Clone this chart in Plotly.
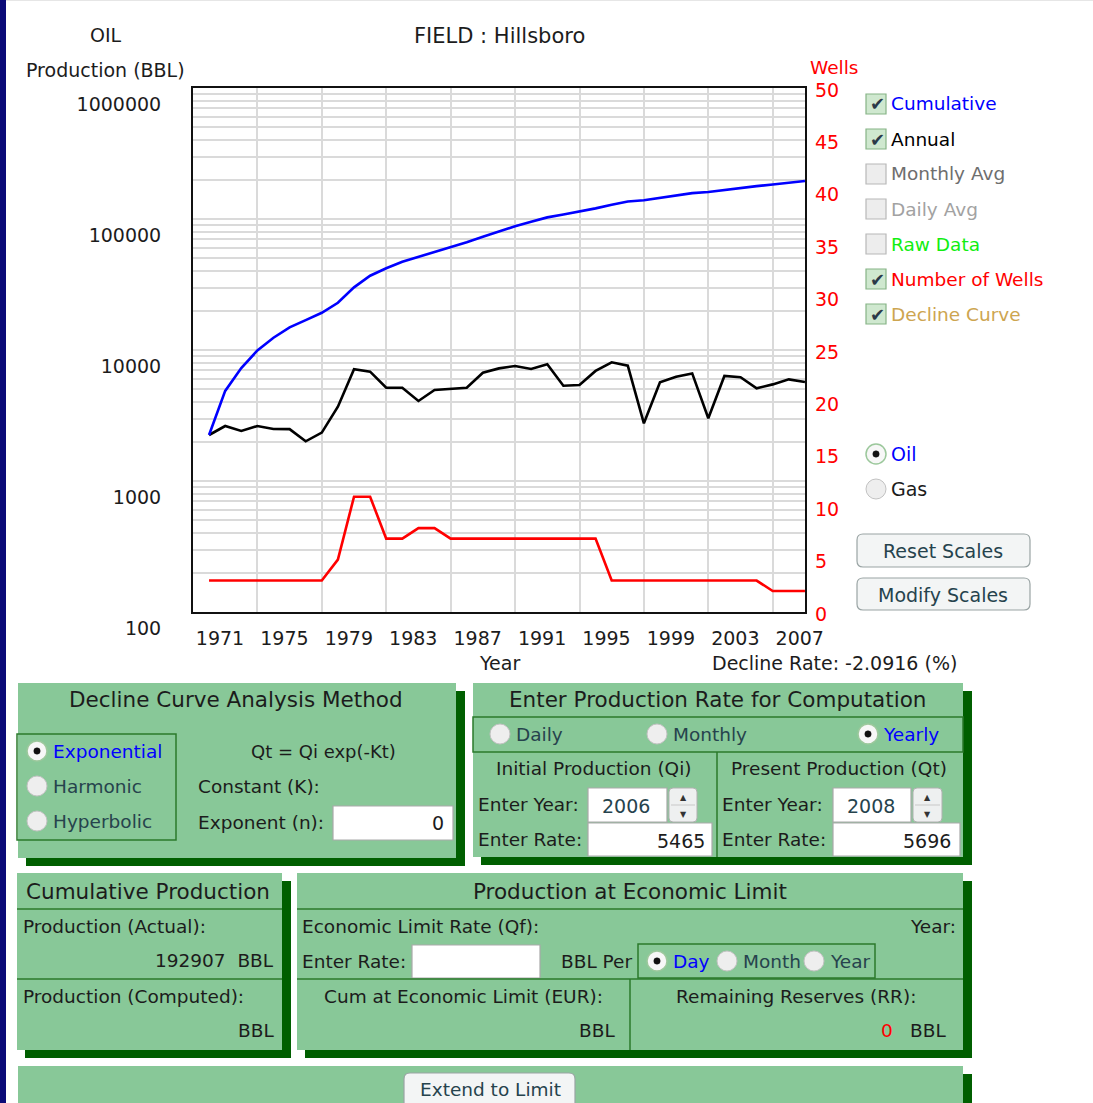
import plotly.graph_objects as go

# ---------------- data ----------------
years = [1971, 1972, 1973, 1974, 1975, 1976, 1977, 1978, 1979, 1980,
         1981, 1982, 1983, 1984, 1985, 1986, 1987, 1988, 1989, 1990,
         1991, 1992, 1993, 1994, 1995, 1996, 1997, 1998, 1999, 2000,
         2001, 2002, 2003, 2004, 2005, 2006, 2007, 2008]
annual_bbl = [2245, 2630, 2410, 2630, 2495, 2490, 2010, 2340, 3690, 7125,
              6830, 5150, 5150, 4080, 4950, 5060, 5150, 6710, 7240, 7550,
              7160, 7780, 5340, 5410, 6920, 8060, 7600, 2755, 5660, 6250,
              6630, 3010, 6340, 6190, 5100, 5465, 5970, 5696]
cumulative_bbl = [2245, 4875, 7285, 9915, 12410, 14900, 16910, 19250, 22940, 30065,
                  36895, 42045, 47195, 51275, 56225, 61285, 66435, 73145, 80385, 87935,
                  95095, 102875, 108215, 113625, 120545, 128605, 136205, 138960, 144620, 150870,
                  157500, 160510, 166850, 173040, 178140, 183605, 189575, 195271]
wells = [3, 3, 3, 3, 3, 3, 3, 3, 5, 11,
         11, 7, 7, 8, 8, 7, 7, 7, 7, 7,
         7, 7, 7, 7, 7, 3, 3, 3, 3, 3,
         3, 3, 3, 3, 3, 2, 2, 2]
y_tickvals = [100, 1000, 10000, 100000, 1000000]
y_ticktext = ["100", "1000", "10000", "100000", "1000000"]
wells_ticks = [0, 5, 10, 15, 20, 25, 30, 35, 40, 45, 50]

# annual totals are plotted at the end of their year
x_dates = [f"{y}-12-31" for y in years]

W, H = 1093, 1103
FONT = "DejaVu Sans"
TXT = "#1c1c1c"
SLATE = "#26434d"
PANEL = "#88c898"
SHADOW = "#005f00"
INNER = "#2b7a2b"


def px(x):
    return x / W


def py(y):
    return 1 - y / H


shapes = []
annotations = []


def rect(x0, y0, x1, y1, fill="rgba(0,0,0,0)", line=None, lw=1.0):
    shapes.append(dict(type="rect", xref="paper", yref="paper",
                       x0=px(x0), x1=px(x1), y0=py(y1), y1=py(y0),
                       fillcolor=fill,
                       line=dict(color=line if line else "rgba(0,0,0,0)", width=lw if line else 0)))


def rrect(x0, y0, x1, y1, r, fill, line, lw=1.2):
    a, b, c, d = px(x0), px(x1), py(y0), py(y1)
    rx, ry = r / W, r / H
    path = (f"M{a+rx},{c} L{b-rx},{c} Q{b},{c} {b},{c-ry} L{b},{d+ry} Q{b},{d} {b-rx},{d} "
            f"L{a+rx},{d} Q{a},{d} {a},{d+ry} L{a},{c-ry} Q{a},{c} {a+rx},{c} Z")
    shapes.append(dict(type="path", xref="paper", yref="paper", path=path,
                       fillcolor=fill, line=dict(color=line, width=lw)))


def hline(x0, x1, y, color=INNER, lw=1.5):
    shapes.append(dict(type="line", xref="paper", yref="paper",
                       x0=px(x0), x1=px(x1), y0=py(y), y1=py(y), line=dict(color=color, width=lw)))


def vline(x, y0, y1, color=INNER, lw=1.5):
    shapes.append(dict(type="line", xref="paper", yref="paper",
                       x0=px(x), x1=px(x), y0=py(y0), y1=py(y1), line=dict(color=color, width=lw)))


def text(x, y, s, size=19, color=TXT, anchor="center"):
    annotations.append(dict(xref="paper", yref="paper", x=px(x), y=py(y), text=s,
                            showarrow=False, xanchor=anchor, yanchor="middle",
                            font=dict(family=FONT, size=size, color=color)))


def circle(cx, cy, r, fill, line, lw=1.0):
    shapes.append(dict(type="circle", xref="paper", yref="paper",
                       x0=px(cx - r), x1=px(cx + r), y0=py(cy + r), y1=py(cy - r),
                       fillcolor=fill, line=dict(color=line, width=lw)))


def radio(cx, cy, selected):
    if selected:
        circle(cx, cy, 10, "#f7f7f7", "#9cc89c", 1.5)
        circle(cx, cy, 3.2, "#111111", "#111111", 0.5)
    else:
        circle(cx, cy, 10, "#eeeeee", "#c2c2c2", 1.0)


def checkbox(cx, cy, checked):
    if checked:
        rect(cx - 10, cy - 10, cx + 10, cy + 10, "#cfe8cf", "#86b386", 1.2)
        text(cx + 1, cy, "✔", size=18, color="#2b3a48")
    else:
        rect(cx - 10, cy - 10, cx + 10, cy + 10, "#ededed", "#b8b8b8", 1.2)


def panel(x0, y0, x1, y1, sh=8):
    rect(x0 + sh, y0 + sh, x1 + sh + 1, y1 + sh, SHADOW)
    rect(x0, y0, x1, y1, PANEL)


def inputbox(x0, y0, x1, y1):
    rect(x0, y0, x1, y1, "#ffffff", "#a9a9a9", 1.2)


def spinner(x0, y0, x1, y1):
    rrect(x0, y0, x1, y1, 4, "#eef0f0", "#b0b0b0", 1.0)
    hline(x0 + 2, x1 - 2, (y0 + y1) / 2, "#c8c8c8", 1)
    text((x0 + x1) / 2, y0 + 9, "▲", size=8, color="#333333")
    text((x0 + x1) / 2, y1 - 8, "▼", size=8, color="#333333")


# ---------------- figure ----------------
fig = go.Figure()

fig.add_trace(go.Scatter(x=x_dates, y=wells, mode="lines", yaxis="y2",
                         line=dict(color="#ff0000", width=2.6), name="Number of Wells"))
fig.add_trace(go.Scatter(x=x_dates, y=annual_bbl, mode="lines",
                         line=dict(color="#000000", width=2.6), name="Annual"))
fig.add_trace(go.Scatter(x=x_dates, y=cumulative_bbl, mode="lines",
                         line=dict(color="#0000ff", width=2.6), name="Cumulative"))

# left navy frame stripe and top line
rect(0, 0, 6, H, "#0b0b78")
hline(6, W, 0.5, "#e6e6e6", 1)

# ---- chart texts ----
text(106, 35, "OIL", 19)
text(105, 70, "Production (BBL)", 19)
text(499, 36, "FIELD : Hillsboro", 21)
text(834, 68, "Wells", 18.5, "#ff0000")
text(499, 663, "Year", 19)
text(834, 663, "Decline Rate: -2.0916 (%)", 19)

# ---- legend checkboxes ----
legend_items = [("Cumulative", "#0000ff", True), ("Annual", "#000000", True),
                ("Monthly Avg", "#6e6e6e", False), ("Daily Avg", "#a2a2a2", False),
                ("Raw Data", "#11ee11", False), ("Number of Wells", "#ff0000", True),
                ("Decline Curve", "#cda550", True)]
for i, (lab, col, chk) in enumerate(legend_items):
    cy = 104 + 35 * i
    checkbox(876, cy, chk)
    text(889, cy, lab, 18.5, col, "left")

radio(876, 454, True)
text(889, 454, "Oil", 19, "#0000ff", "left")
radio(876, 489, False)
text(889, 489, "Gas", 19, TXT, "left")

rrect(857, 534, 1030, 567, 6, "#f3f5f5", "#9aa4a4")
text(943, 551, "Reset Scales", 19, SLATE)
rrect(857, 578, 1030, 610, 6, "#f3f5f5", "#9aa4a4")
text(943, 595, "Modify Scales", 19, SLATE)

# ---- Panel A : Decline Curve Analysis Method ----
panel(18, 683, 456, 858)
text(236, 699, "Decline Curve Analysis Method", 21.5)
rect(17, 734, 176, 840, "rgba(0,0,0,0)", INNER, 1.5)
radio(37, 751, True)
text(51, 751, "Exponential", 18.5, "#0000ff", "left")
radio(37, 786, False)
text(51, 786, "Harmonic", 18.5, SLATE, "left")
radio(37, 821, False)
text(51, 821, "Hyperbolic", 18.5, SLATE, "left")
text(323, 751, "Qt = Qi exp(-Kt)", 18)
text(196, 786, "Constant (K):", 18.5, TXT, "left")
text(196, 822, "Exponent (n):", 18.5, TXT, "left")
inputbox(333, 806, 453, 840)
text(446, 823, "0", 19, TXT, "right")

# ---- Panel B : Enter Production Rate for Computation ----
panel(473, 683, 963, 857)
text(717, 699, "Enter Production Rate for Computation", 21.5)
rect(473, 717, 963, 752, "rgba(0,0,0,0)", INNER, 1.5)
radio(500, 734, False)
text(514, 734, "Daily", 18.5, SLATE, "left")
radio(657, 734, False)
text(671, 734, "Monthly", 18.5, SLATE, "left")
radio(868, 734, True)
text(881, 734, "Yearly", 18.5, "#0000ff", "left")
vline(717, 752, 857)
text(594, 768, "Initial Production (Qi)", 18.5)
text(839, 768, "Present Production (Qt)", 18.5)
text(476, 804, "Enter Year:", 18.5, TXT, "left")
inputbox(588, 788, 667, 822)
text(626, 806, "2006", 19, SLATE)
spinner(669, 788, 697, 822)
text(476, 839, "Enter Rate:", 18.5, TXT, "left")
inputbox(588, 823, 712, 856)
text(707, 841, "5465", 19, TXT, "right")
text(720, 804, "Enter Year:", 18.5, TXT, "left")
inputbox(833, 788, 911, 822)
text(871, 806, "2008", 19, SLATE)
spinner(913, 788, 942, 822)
text(720, 839, "Enter Rate:", 18.5, TXT, "left")
inputbox(833, 823, 960, 856)
text(953, 841, "5696", 19, TXT, "right")

# ---- Panel C : Cumulative Production ----
panel(17, 873, 282, 1050)
text(148, 891, "Cumulative Production", 21.5)
hline(17, 282, 909)
text(21, 926, "Production (Actual):", 18.5, TXT, "left")
text(276, 960, "192907  BBL", 18.5, TXT, "right")
hline(17, 282, 979)
text(21, 996, "Production (Computed):", 18.5, TXT, "left")
text(276, 1030, "BBL", 18.5, TXT, "right")

# ---- Panel D : Production at Economic Limit ----
panel(297, 873, 963, 1050)
text(630, 891, "Production at Economic Limit", 21.5)
hline(297, 963, 909)
text(300, 926, "Economic Limit Rate (Qf):", 18.5, TXT, "left")
text(958, 926, "Year:", 18.5, TXT, "right")
text(300, 961, "Enter Rate:", 18.5, TXT, "left")
inputbox(412, 945, 540, 978)
text(634, 961, "BBL Per", 18.5, TXT, "right")
rect(638, 944, 875, 978, "rgba(0,0,0,0)", INNER, 1.5)
radio(657, 961, True)
text(671, 961, "Day", 18.5, "#0000ff", "left")
radio(727, 961, False)
text(741, 961, "Month", 18.5, SLATE, "left")
radio(814, 961, False)
text(828, 961, "Year", 18.5, SLATE, "left")
hline(297, 963, 979)
vline(630, 979, 1050)
text(463, 996, "Cum at Economic Limit (EUR):", 18.5)
text(617, 1030, "BBL", 18.5, TXT, "right")
text(796, 996, "Remaining Reserves (RR):", 18.5)
text(895, 1030, "0", 18.5, "#ff0000", "right")
text(948, 1030, "BBL", 18.5, TXT, "right")

# ---- Panel E : bottom (cut off) ----
panel(18, 1066, 963, 1115)
rrect(404, 1073, 575, 1115, 6, "#f3f5f5", "#9aa4a4")
text(490, 1089, "Extend to Limit", 18.5, SLATE)

fig.update_layout(
    width=W, height=H,
    margin=dict(l=0, r=0, t=0, b=0, pad=0, autoexpand=False),
    paper_bgcolor="#ffffff", plot_bgcolor="#ffffff",
    showlegend=False,
    font=dict(family=FONT, size=19, color=TXT),
    shapes=shapes, annotations=annotations,
    xaxis=dict(type="date", domain=[px(193), px(805)],
               range=["1971-01-01", "2009-01-01"],
               tick0="1971-01-01", dtick="M48", tickformat="%Y",
               showgrid=True, gridcolor="#dadada", gridwidth=1.6,
               showline=True, linecolor="#111111", linewidth=2, mirror=True,
               ticks="", ticklabelshift=27, ticklabelstandoff=8,
               tickfont=dict(family=FONT, size=19, color=TXT),
               automargin=False, zeroline=False, fixedrange=True),
    yaxis=dict(type="log", domain=[py(612), py(88)], range=[2, 6],
               tickvals=y_tickvals, ticktext=y_ticktext,
               showgrid=True, gridcolor="#dadada", gridwidth=1.6,
               minor=dict(dtick="D1", showgrid=True, gridcolor="#dadada", gridwidth=1.6, ticks=""),
               showline=True, linecolor="#111111", linewidth=2, mirror=True,
               ticks="", ticklabelshift=16, ticklabelstandoff=26,
               tickfont=dict(family=FONT, size=19, color=TXT),
               automargin=False, zeroline=False, fixedrange=True),
    yaxis2=dict(overlaying="y", side="right", range=[0, 50],
                tickvals=wells_ticks, showgrid=False, zeroline=False,
                ticks="", ticklabelstandoff=9, ticklabelshift=2,
                tickfont=dict(family=FONT, size=19, color="#ff0000"),
                automargin=False, fixedrange=True),
)

fig.write_html("out.html",
               config={"displayModeBar": False},
               post_script="document.body.style.margin='0';document.body.style.overflow='hidden';")
